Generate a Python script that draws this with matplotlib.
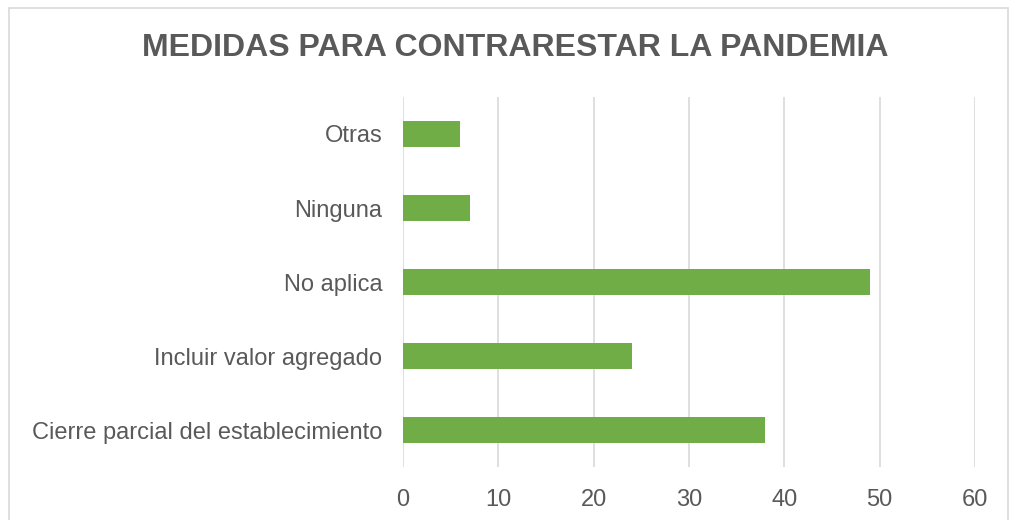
import matplotlib.pyplot as plt
from matplotlib.patches import Rectangle

plt.rcParams['font.family'] = ['Liberation Sans', 'DejaVu Sans']

# datos
categorias = ['Cierre parcial del establecimiento', 'Incluir valor agregado',
              'No aplica', 'Ninguna', 'Otras']
valores = [38, 24, 49, 7, 6]
ticks_x = [0, 10, 20, 30, 40, 50, 60]

gris_texto = '#595959'
verde = '#70AD47'

fig = plt.figure(figsize=(10.11, 5.2), dpi=100)
ax = fig.add_axes([403 / 1011, 1 - 467 / 520, (975 - 403) / 1011, (467 - 97) / 520])

ax.barh(range(len(categorias)), valores, height=0.35, color=verde, zorder=3)
ax.set_xlim(0, 60)
ax.set_ylim(-0.5, len(categorias) - 0.5)
ax.set_xticks(ticks_x)
ax.set_yticks(range(len(categorias)))
ax.set_yticklabels(categorias)
ax.grid(axis='x', color='#d9d9d9', linewidth=1.2, zorder=0)
ax.tick_params(axis='both', length=0, labelsize=17, colors=gris_texto)
ax.tick_params(axis='x', pad=16)
ax.tick_params(axis='y', pad=15)
for s in ax.spines.values():
    s.set_visible(False)

fig.text(515 / 1011, 1 - 48 / 520, 'MEDIDAS PARA CONTRARESTAR LA PANDEMIA',
         ha='center', va='center', fontsize=23, fontweight='bold', color=gris_texto)

# borde del gráfico
fig.patches.append(Rectangle((9 / 1011, -0.02), 999 / 1011, 1 - 8 / 520 + 0.02,
                             transform=fig.transFigure, fill=False,
                             edgecolor='#d9d9d9', linewidth=1.2))

fig.savefig('out.png', dpi=100)
